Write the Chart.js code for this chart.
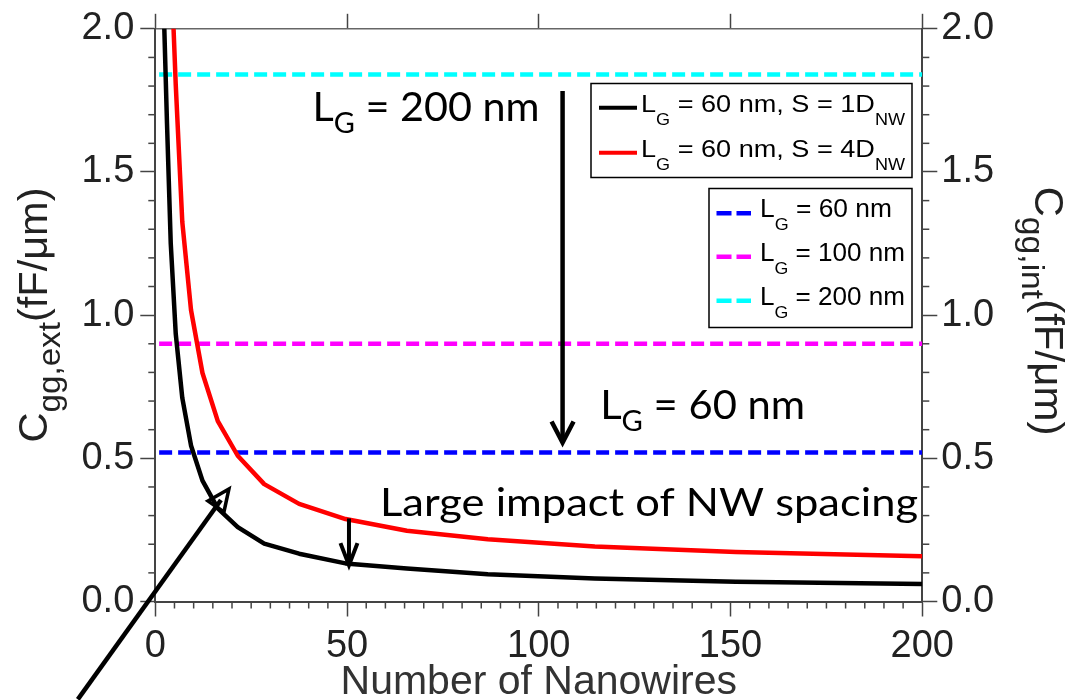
<!DOCTYPE html>
<html><head><meta charset="utf-8">
<script src="https://cdn.jsdelivr.net/npm/chart.js@4.4.1/dist/chart.umd.min.js"></script>
<style>html,body{margin:0;padding:0;background:#fff;}#wrap{width:1070px;height:700px;}</style>
</head><body><div id="wrap"><canvas id="c" width="1070" height="700"></canvas></div>
<script>
// ---- data ----
const nanowires = [2.31, 3.05, 4.03, 5.33, 7.04, 9.31, 12.3, 16.3, 21.5, 28.4, 37.5, 49.6, 65.6, 86.7, 114.6, 151.4, 200];
const cggExtS1 = [2.02, 1.67, 1.25, 0.935, 0.711, 0.545, 0.422, 0.325, 0.260, 0.202, 0.167, 0.133, 0.115, 0.095, 0.080, 0.069, 0.061];
const cggExtS4 = [4.0, 3.05, 2.25, 1.805, 1.325, 1.018, 0.798, 0.630, 0.509, 0.410, 0.341, 0.288, 0.247, 0.217, 0.192, 0.173, 0.158];
const intSpan = [1, 200];
const intGateLengths = ['60 nm', '100 nm', '200 nm'];
const cggInt = [0.52, 0.90, 1.84];
const xTickValues = [0, 50, 100, 150, 200];
const yTickValues = [0.0, 0.5, 1.0, 1.5, 2.0];

// ---- styles ----
const AX = 'Liberation Sans, Arial, sans-serif';
const ANN = 'Lato, "Open Sans", sans-serif';
const TXT = '#222';
const AXC = '#444';
const intColors = ['#0000ff', '#ff00ff', '#00ffff'];

const datasets = [
  {label:'S1', data: nanowires.map((n,i)=>({x:n,y:cggExtS1[i]})), borderColor:'#000', borderWidth:4.5, yAxisID:'y', order:0},
  {label:'S4', data: nanowires.map((n,i)=>({x:n,y:cggExtS4[i]})), borderColor:'#ff0000', borderWidth:4.5, yAxisID:'y', order:0},
];
cggInt.forEach((v,i)=>{
  datasets.push({label:intGateLengths[i], data: intSpan.map(n=>({x:n,y:v})), borderColor:intColors[i], borderWidth:4.5, borderDash:[13,6], yAxisID:'y2', order:1});
});
datasets.forEach(d=>{d.pointRadius=0; d.tension=0; d.fill=false; d.borderJoinStyle='round';});

function richWidth(ctx, parts, family){
  let w=0; parts.forEach(p=>{ctx.font=p.size+'px '+family; w+=ctx.measureText(p.t).width;}); return w;
}
function drawRich(ctx, parts, x, y, family, targetWidth, color){
  const w = richWidth(ctx, parts, family);
  const sx = targetWidth ? targetWidth/w : 1;
  ctx.save(); ctx.translate(x,y); ctx.scale(sx,1);
  ctx.fillStyle = color||'#000'; ctx.textBaseline='alphabetic'; ctx.textAlign='left';
  let cx=0;
  parts.forEach(p=>{ctx.font=p.size+'px '+family; ctx.fillText(p.t,cx,p.dy||0); cx+=ctx.measureText(p.t).width;});
  ctx.restore();
  return w*sx;
}
function drawRotRich(ctx, parts, cx, cy, angle, family, targetWidth, color){
  const w = targetWidth || richWidth(ctx, parts, family);
  ctx.save(); ctx.translate(cx,cy); ctx.rotate(angle);
  drawRich(ctx, parts, -w/2, 0, family, targetWidth, color);
  ctx.restore();
}
function arrowLine(ctx, x1,y1,x2,y2, lw){
  ctx.beginPath(); ctx.moveTo(x1,y1); ctx.lineTo(x2,y2); ctx.lineWidth=lw; ctx.stroke();
}

const decor = {
  id:'decor',
  afterDraw(chart){
    const ctx = chart.ctx, xs = chart.scales.x, ys = chart.scales.y, a = chart.chartArea;
    ctx.save();
    ctx.strokeStyle = AXC; ctx.lineWidth = 1.5; ctx.lineCap='butt';
    // minor ticks
    for (let v=5; v<200; v+=5){ if (v%50===0) continue;
      const px = xs.getPixelForValue(v);
      ctx.beginPath(); ctx.moveTo(px,a.bottom); ctx.lineTo(px,a.bottom+7); ctx.stroke(); }
    for (let k=1; k<20; k++){ if (k%5===0) continue;
      const py = ys.getPixelForValue(k/10);
      ctx.beginPath(); ctx.moveTo(a.left,py); ctx.lineTo(a.left-7,py); ctx.stroke();
      ctx.beginPath(); ctx.moveTo(a.right,py); ctx.lineTo(a.right+7,py); ctx.stroke(); }
    ctx.restore();

    // axis titles
    ctx.save();
    const xt = [{t:'Number of Nanowires', size:41}];
    ctx.font = '41px '+AX;
    const xw = ctx.measureText(xt[0].t).width;
    drawRich(ctx, xt, (a.left+a.right)/2 - xw/2, 694, AX, null, '#333');
    drawRotRich(ctx, [{t:'C',size:40},{t:'gg,ext',size:32,dy:13},{t:'(fF/\u03bcm)',size:40}], 47, 315, -Math.PI/2, AX, 255, '#222');
    drawRotRich(ctx, [{t:'C',size:40},{t:'gg,int',size:32,dy:13},{t:'(fF/\u03bcm)',size:40}], 1035, 311, Math.PI/2, AX, 249, '#222');
    ctx.restore();

    // legends
    ctx.save();
    ctx.strokeStyle='#000'; ctx.lineWidth=1.5;
    ctx.strokeRect(591, 83.5, 321, 94);
    ctx.strokeRect(709, 188.5, 203, 139);
    ctx.lineCap='butt';
    [[datasets[0],107.7,'1'],[datasets[1],152.7,'4']].forEach(([d,yy,s])=>{
      ctx.strokeStyle=d.borderColor; ctx.lineWidth=4; ctx.setLineDash([]);
      ctx.beginPath(); ctx.moveTo(599,yy); ctx.lineTo(637,yy); ctx.stroke();
      drawRich(ctx,[{t:'L',size:24},{t:'G',size:16,dy:13},{t:' = 60 nm, S = '+s+'D',size:24},{t:'NW',size:16,dy:13}],641,yy+4.5,AX,264,'#000');
    });
    [[datasets[2],213.3,132],[datasets[3],256.7,145],[datasets[4],300.7,145]].forEach(([d,yy,tw])=>{
      ctx.strokeStyle=d.borderColor; ctx.lineWidth=4.5; ctx.setLineDash([15,5]);
      ctx.beginPath(); ctx.moveTo(716.5,yy); ctx.lineTo(751,yy); ctx.stroke();
      ctx.setLineDash([]);
      drawRich(ctx,[{t:'L',size:25},{t:'G',size:17,dy:13},{t:' = '+d.label,size:25}],760,yy+4,AX,tw,'#000');
    });
    ctx.restore();

    // annotations
    ctx.save();
    ctx.strokeStyle='#000'; ctx.fillStyle='#000'; ctx.lineCap='butt'; ctx.lineJoin='miter';
    const P = (x,y)=>[xs.getPixelForValue(x), ys.getPixelForValue(y)];
    // big vertical arrow
    let [ax, ay1] = P(106.2, 1.783); let [, ay2] = P(106.2, 0.555);
    arrowLine(ctx, ax, ay1, ax, ay2-2, 4.5);
    ctx.beginPath(); ctx.moveTo(ax-11, ay2-21); ctx.lineTo(ax, ay2); ctx.lineTo(ax+11, ay2-21); ctx.lineWidth=4.5; ctx.stroke();
    // small arrow
    let [bx, by1] = P(50.5, 0.29); let [, by2] = P(50.5, 0.127);
    arrowLine(ctx, bx, by1, bx, by2-2, 4);
    ctx.beginPath(); ctx.moveTo(bx-8.5, by2-22); ctx.lineTo(bx, by2); ctx.lineTo(bx+8.5, by2-22); ctx.lineWidth=4; ctx.stroke();
    // diagonal arrow
    let [dx1, dy1] = P(-20.2, -0.342); let [dx2, dy2] = P(19.2, 0.393);
    arrowLine(ctx, dx1, dy1, dx2-8, dy2+11, 4.5);
    ctx.beginPath(); ctx.moveTo(dx2-21, dy2+12); ctx.lineTo(dx2, dy2); ctx.lineTo(dx2-5, dy2+23); ctx.closePath(); ctx.lineWidth=3.5; ctx.stroke();
    // texts
    let [tx, ty] = P(41.0, 1.678);
    drawRich(ctx,[{t:'L',size:40},{t:'G',size:28,dy:12},{t:' = 200 nm',size:40}],tx,ty,ANN,227,'#000');
    [tx, ty] = P(116.0, 0.637);
    drawRich(ctx,[{t:'L',size:40},{t:'G',size:28,dy:12},{t:' = 60 nm',size:40}],tx,ty,ANN,205,'#000');
    [tx, ty] = P(58.6, 0.300);
    drawRich(ctx,[{t:'Large impact of NW spacing',size:39}],tx,ty,ANN,538,'#000');
    ctx.restore();
  }
};

const tickFont = {family: AX, size: 38};
new Chart(document.getElementById('c'), {
  type:'line',
  data:{datasets},
  options:{
    responsive:false, animation:false,
    layout:{padding:0},
    plugins:{legend:{display:false}, tooltip:{enabled:false}},
    scales:{
      x:{type:'linear', position:'bottom', min:0, max:200,
         afterBuildTicks(s){s.ticks = xTickValues.map(v=>({value:v}));},
         ticks:{font:tickFont, color:TXT, padding:7, maxRotation:0},
         grid:{drawOnChartArea:false, tickLength:15, tickColor:AXC, tickWidth:1.5},
         border:{color:AXC, width:2},
         afterFit(s){s.height=98.5;}},
      xTop:{type:'linear', position:'top', min:0, max:200,
         afterBuildTicks(s){s.ticks = xTickValues.map(v=>({value:v}));},
         ticks:{display:false},
         grid:{drawOnChartArea:false, tickLength:15, tickColor:AXC, tickWidth:1.5},
         border:{color:'#666', width:1.5},
         afterFit(s){s.height=25;}},
      y:{type:'linear', position:'left', min:0, max:2,
         afterBuildTicks(s){s.ticks = yTickValues.map(v=>({value:v}));},
         ticks:{font:tickFont, color:TXT, padding:6, callback:v=>v.toFixed(1)},
         grid:{drawOnChartArea:false, tickLength:15, tickColor:AXC, tickWidth:1.5},
         border:{color:AXC, width:2},
         afterFit(s){s.width=155.3;}},
      y2:{type:'linear', position:'right', min:0, max:2,
         afterBuildTicks(s){s.ticks = yTickValues.map(v=>({value:v}));},
         ticks:{font:tickFont, color:TXT, padding:4, callback:v=>v.toFixed(1)},
         grid:{drawOnChartArea:false, tickLength:15, tickColor:AXC, tickWidth:1.5},
         border:{color:AXC, width:2},
         afterFit(s){s.width=147.7;}}
    }
  },
  plugins:[decor]
});
</script></body></html>
